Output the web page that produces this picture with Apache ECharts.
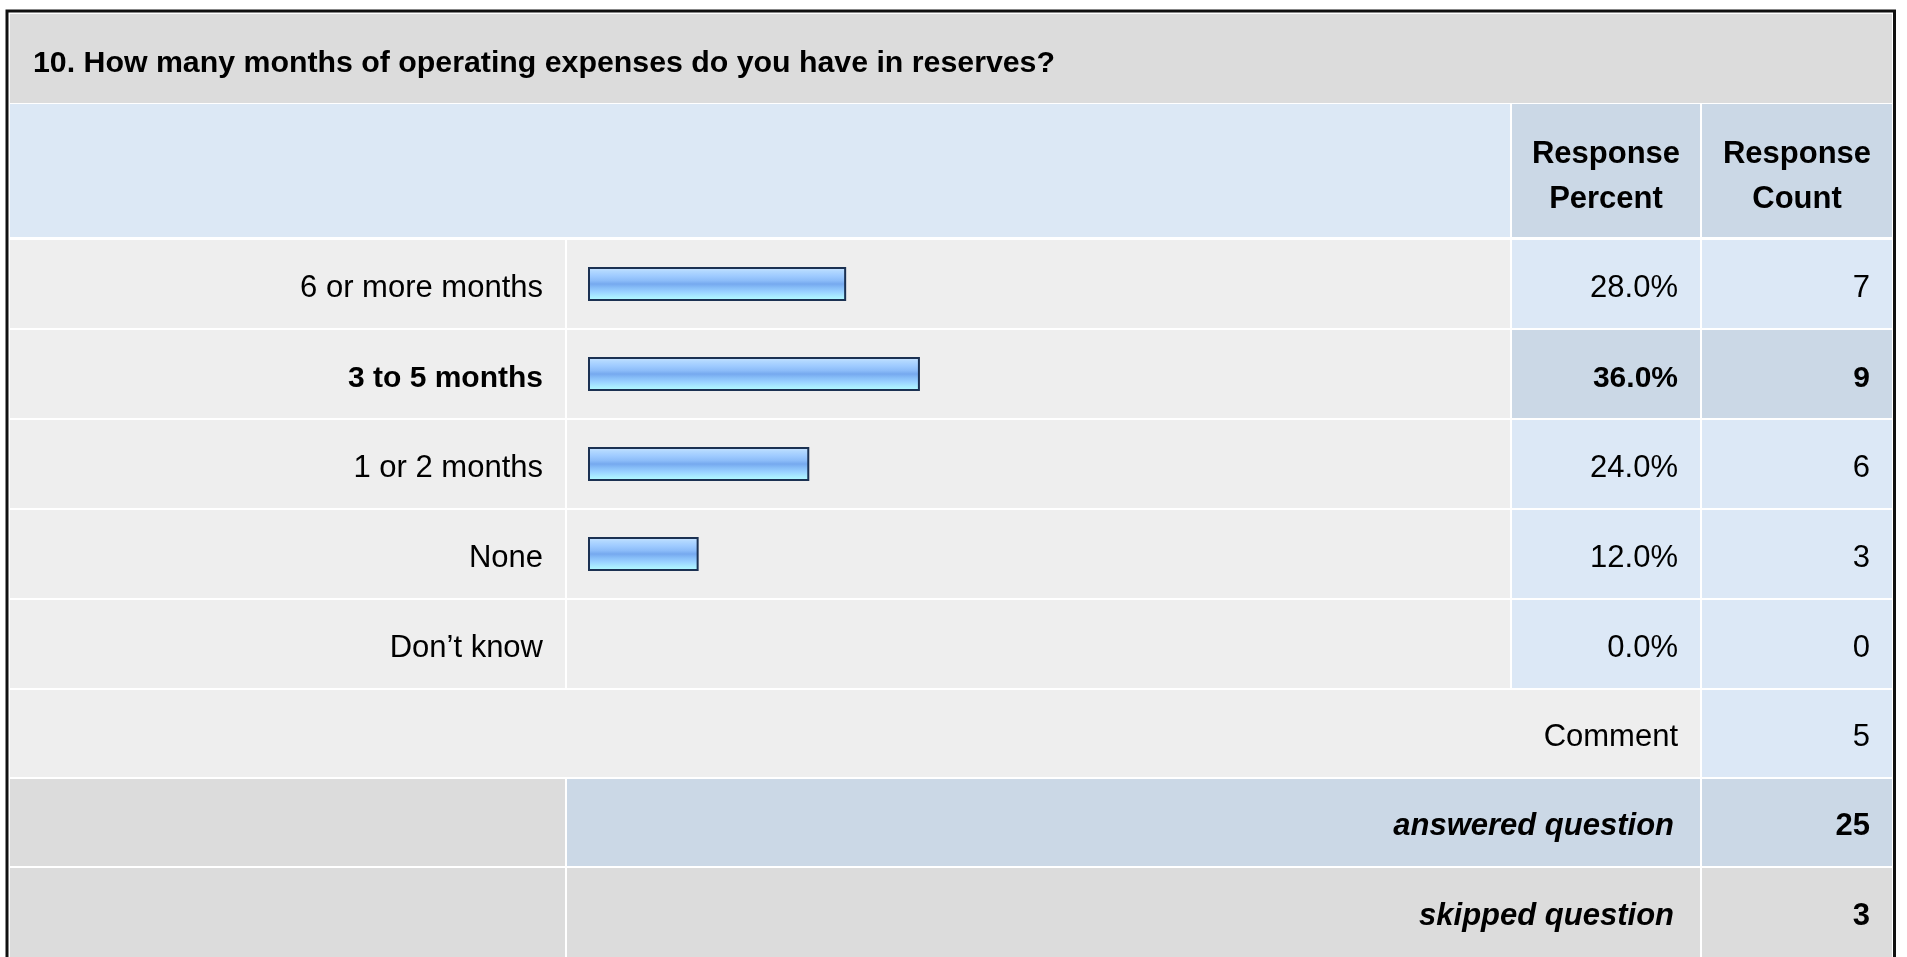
<!DOCTYPE html>
<html>
<head>
<meta charset="utf-8">
<title>Operating reserves</title>
<script src="https://cdn.jsdelivr.net/npm/echarts@6/dist/echarts.min.js"></script>
<style>
  html, body { margin: 0; padding: 0; background: #ffffff; }
  #chart { width: 1907px; height: 957px; }
</style>
</head>
<body>
<div id="chart"></div>
<script>
// Survey question and answers
const questionTitle = '10. How many months of operating expenses do you have in reserves?';
const categories = ['6 or more months', '3 to 5 months', '1 or 2 months', 'None', 'Don\u2019t know'];
const responsePercent = [28.0, 36.0, 24.0, 12.0, 0.0];
const responseCount = [7, 9, 6, 3, 0];
const headerLabels = ['Response\nPercent', 'Response\nCount'];
const commentLabel = 'Comment';
const commentCount = 5;
const answeredLabel = 'answered question';
const answeredCount = 25;
const skippedLabel = 'skipped question';
const skippedCount = 3;

// The most chosen answer is shown in bold with a darker cell
const topIndex = responseCount.indexOf(Math.max.apply(null, responseCount));

const FONT = '"Liberation Sans", Arial, Helvetica, sans-serif';
const FS = 31;
const FS_BOLD_ROW = 30;

// Table geometry
const colLabel = { x: 10, w: 555 };
const colBar = { x: 567, w: 943 };
const colPct = { x: 1512, w: 188 };
const colCnt = { x: 1702, w: 190 };
const rowTop0 = 240, rowPitch = 90, rowH = 88;
const TEXT_DY = 4.5;

const C = {
  title: '#dcdcdc',
  header: '#dce8f5',
  headerCell: '#cbd8e6',
  body: '#eeeeee',
  cell: '#dce8f6',
  cellHi: '#cbd8e6',
  gray: '#dcdcdc'
};

const g = [];
function rect(x, y, w, h, fill) {
  g.push({ type: 'rect', z: -10, silent: true, shape: { x: x, y: y, width: w, height: h }, style: { fill: fill } });
}
function text(x, y, str, align, weight, style, size, lh) {
  g.push({
    type: 'text', z: 10, silent: true, x: x, y: y,
    style: {
      text: str, fill: '#000', align: align, verticalAlign: 'middle',
      font: (style || 'normal') + ' ' + (weight || 'normal') + ' ' + (size || FS) + 'px ' + FONT,
      lineHeight: lh || 38
    }
  });
}

// Outer frame
g.push({ type: 'rect', z: -5, silent: true, shape: { x: 7, y: 11, width: 1887.5, height: 1000 },
  style: { fill: 'none', stroke: '#111111', lineWidth: 3 } });

// Title row
rect(10, 14, 1882, 89, C.title);
g.push({ type: 'text', z: 10, silent: true, x: 33, y: 63.5,
  style: { text: questionTitle, fill: '#000', align: 'left', verticalAlign: 'middle',
    font: 'bold 30.3px ' + FONT } });

// Header row
rect(10, 104, 1500, 133, C.header);
rect(colPct.x, 104, colPct.w, 133, C.headerCell);
rect(colCnt.x, 104, colCnt.w, 133, C.headerCell);
text(colPct.x + colPct.w / 2, 176.5, headerLabels[0], 'center', 'bold', null, FS, 45);
text(colCnt.x + colCnt.w / 2, 176.5, headerLabels[1], 'center', 'bold', null, FS, 45);

// Answer rows
categories.forEach(function (c, i) {
  const y = rowTop0 + i * rowPitch;
  const hi = i === topIndex;
  rect(colLabel.x, y, colLabel.w, rowH, C.body);
  rect(colBar.x, y, colBar.w, rowH, C.body);
  rect(colPct.x, y, colPct.w, rowH, hi ? C.cellHi : C.cell);
  rect(colCnt.x, y, colCnt.w, rowH, hi ? C.cellHi : C.cell);
  const cy = y + rowH / 2 + TEXT_DY;
  const size = hi ? FS_BOLD_ROW : FS;
  text(colPct.x + colPct.w - 22, cy, responsePercent[i].toFixed(1) + '%', 'right', hi ? 'bold' : 'normal', null, size);
  text(colCnt.x + colCnt.w - 22, cy, String(responseCount[i]), 'right', hi ? 'bold' : 'normal', null, size);
});

// Comment row
rect(10, 690, 1690, 87, C.body);
rect(colCnt.x, 690, colCnt.w, 87, C.cell);
text(colPct.x + colPct.w - 22, 737, commentLabel, 'right');
text(colCnt.x + colCnt.w - 22, 737, String(commentCount), 'right');

// Answered row
rect(colLabel.x, 779, colLabel.w, 87, C.gray);
rect(colBar.x, 779, 1133, 87, C.cellHi);
rect(colCnt.x, 779, colCnt.w, 87, C.cellHi);
text(1674, 826, answeredLabel, 'right', 'bold', 'italic');
text(colCnt.x + colCnt.w - 22, 826, String(answeredCount), 'right', 'bold');

// Skipped row
rect(colLabel.x, 868, colLabel.w, 100, C.gray);
rect(colBar.x, 868, 1133, 100, C.gray);
rect(colCnt.x, 868, colCnt.w, 100, C.gray);
text(1674, 916, skippedLabel, 'right', 'bold', 'italic');
text(colCnt.x + colCnt.w - 22, 916, String(skippedCount), 'right', 'bold');

const barFill = new echarts.graphic.LinearGradient(0, 0, 0, 1, [
  { offset: 0.00, color: '#cfe6ff' },
  { offset: 0.12, color: '#b2d8ff' },
  { offset: 0.26, color: '#9fcbff' },
  { offset: 0.40, color: '#8cbcf8' },
  { offset: 0.50, color: '#76a9ef' },
  { offset: 0.60, color: '#86bcf7' },
  { offset: 0.72, color: '#98d0ff' },
  { offset: 0.86, color: '#a8eaff' },
  { offset: 1.00, color: '#b4ffff' }
]);

const chart = echarts.init(document.getElementById('chart'), null, { renderer: 'canvas' });
chart.setOption({
  backgroundColor: '#ffffff',
  animation: false,
  graphic: g,
  grid: { left: 588, right: 397, top: 239, height: 450, containLabel: false },
  xAxis: {
    type: 'value', min: 0, max: 100,
    show: false, splitLine: { show: false }
  },
  yAxis: {
    type: 'category', inverse: true, data: categories,
    axisLine: { show: false }, axisTick: { show: false }, splitLine: { show: false },
    axisLabel: {
      margin: 45, color: '#000', fontFamily: FONT, fontSize: FS, padding: [9, 0, 0, 0],
      formatter: function (v, i) { return i === topIndex ? '{b|' + v + '}' : v; },
      rich: { b: { fontWeight: 'bold', fontSize: FS_BOLD_ROW, fontFamily: FONT, color: '#000' } }
    }
  },
  series: [{
    type: 'bar',
    barWidth: 34,
    silent: true,
    data: responsePercent.map(function (v) {
      return { value: v, itemStyle: v === 0 ? { borderWidth: 0, opacity: 0 } : {} };
    }),
    itemStyle: { color: barFill, borderColor: '#1b3152', borderWidth: 2 }
  }]
});
</script>
</body>
</html>
